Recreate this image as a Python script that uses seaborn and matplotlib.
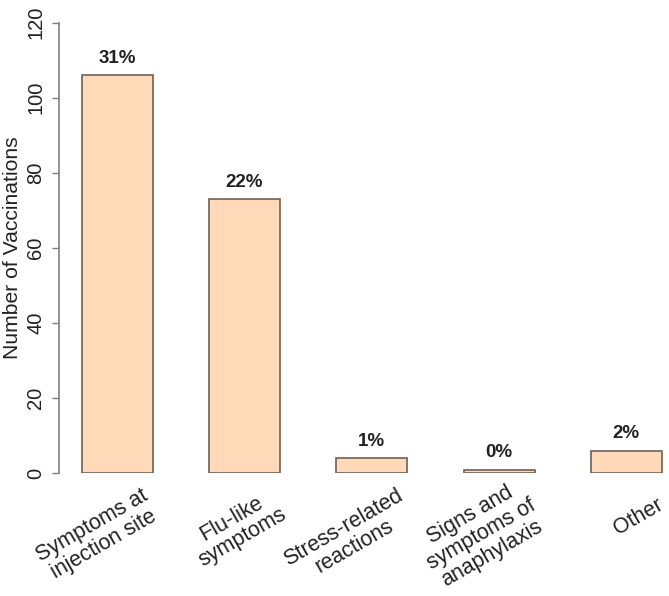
import matplotlib
matplotlib.use("Agg")
import matplotlib.pyplot as plt
import matplotlib.transforms as mtransforms
import seaborn as sns
import pandas as pd

# datos del grafico
categorias = ["Symptoms at\ninjection site", "Flu-like\nsymptoms", "Stress-related\nreactions",
              "Signs and\nsymptoms of\nanaphylaxis", "Other"]
vacunaciones = [106, 73, 4, 1, 6]
porcentajes = ["31%", "22%", "1%", "0%", "2%"]
y_ticks = [0, 20, 40, 60, 80, 100, 120]

df = pd.DataFrame({"Categoria": categorias, "Vacunaciones": vacunaciones})

sns.set_style("white")
plt.rcParams["font.family"] = ["Liberation Sans", "DejaVu Sans"]

fig = plt.figure(figsize=(6.69, 5.96), dpi=100)
# eje y: 0 en el pixel 473, 120 en el pixel 23
ax = fig.add_axes([59.3 / 669, (596 - 473.3) / 596, 609.7 / 669, 450.6 / 596])

sns.barplot(x="Categoria", y="Vacunaciones", data=df, color="#FFD9B8",
            edgecolor="#6e6058", linewidth=1.2, width=0.557, saturation=1, ax=ax)

ax.set_xlim(-0.455, 4.335)
ax.set_ylim(0, 120)
ax.set_yticks(y_ticks)
ax.set_yticklabels([str(v) for v in y_ticks], rotation=90, va="center", fontsize=14.5, color="#222222")
ax.tick_params(axis="y", direction="out", length=5, width=1, color="#808080", pad=5, left=True)
ax.set_ylabel("Number of Vaccinations", fontsize=15.2, color="#222222", va="center")
ax.yaxis.set_label_coords(-46.5 / 609.7, 0.5)
ax.set_xlabel("")

for lado in ["top", "right", "bottom"]:
    ax.spines[lado].set_visible(False)
ax.spines["left"].set_color("#808080")
ax.spines["left"].set_linewidth(1.2)
ax.spines["left"].set_bounds(0, 120)

# etiquetas de porcentaje
for i, (v, p) in enumerate(zip(vacunaciones, porcentajes)):
    ax.text(i, v + 4.5, p, ha="center", va="center", fontsize=13.5, fontweight="bold",
            color="#222222", clip_on=False)

# etiquetas del eje x giradas
ax.set_xticks(range(len(categorias)))
ax.set_xticklabels(categorias, rotation=30, ha="right", va="center", rotation_mode="anchor",
                   multialignment="center", fontsize=15.5, color="#222222", linespacing=1.05)
ax.tick_params(axis="x", length=0, pad=22)
offset = mtransforms.ScaledTranslation(35 / 100, 0, fig.dpi_scale_trans)
for lbl in ax.get_xticklabels():
    lbl.set_transform(lbl.get_transform() + offset)

fig.savefig("out.png", dpi=100)
